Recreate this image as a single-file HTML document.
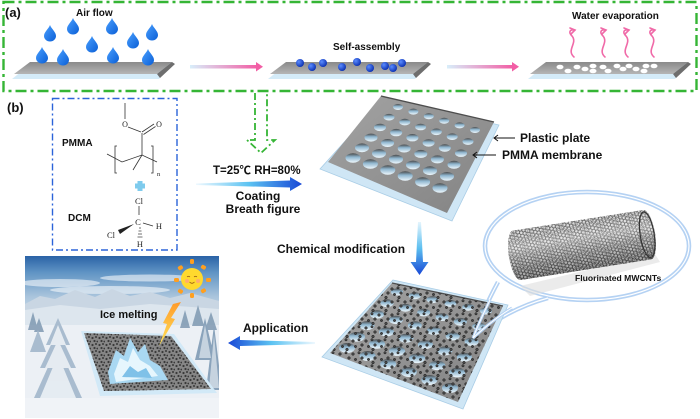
<!DOCTYPE html>
<html><head><meta charset="utf-8"><style>
html,body{margin:0;padding:0;background:#fff;}
svg{display:block;}
.t{font-family:"Liberation Sans",Arial,"Noto Sans CJK SC",sans-serif;font-weight:bold;fill:#111;}
.s{font-family:"Liberation Serif","Times New Roman",serif;fill:#222;}
</style></head><body>
<svg width="700" height="419" viewBox="0 0 700 419" xmlns="http://www.w3.org/2000/svg">
<defs>
 <linearGradient id="plateA" x1="0" y1="0" x2="0" y2="1"><stop offset="0" stop-color="#8a8a8a"/><stop offset="1" stop-color="#b5b5b5"/></linearGradient>
 <linearGradient id="pink" x1="0" x2="1"><stop offset="0" stop-color="#d8eefa"/><stop offset="1" stop-color="#f25ea5"/></linearGradient>
 <linearGradient id="blueR" x1="0" x2="1"><stop offset="0" stop-color="#eef8fe"/><stop offset="0.5" stop-color="#5cc3f2"/><stop offset="1" stop-color="#1848d6"/></linearGradient>
 <linearGradient id="blueL" x1="1" x2="0"><stop offset="0" stop-color="#eef8fe"/><stop offset="0.5" stop-color="#5cc3f2"/><stop offset="1" stop-color="#1848d6"/></linearGradient>
 <linearGradient id="blueD" x1="0" y1="0" x2="0" y2="1"><stop offset="0" stop-color="#e6f5fd"/><stop offset="0.5" stop-color="#5cbff0"/><stop offset="1" stop-color="#1848d6"/></linearGradient>
 <radialGradient id="ball" cx="0.35" cy="0.35" r="0.7"><stop offset="0" stop-color="#5b8cff"/><stop offset="1" stop-color="#0a2fb0"/></radialGradient>
 <linearGradient id="dropG" x1="0" y1="0" x2="1" y2="1"><stop offset="0" stop-color="#4aa0ff"/><stop offset="1" stop-color="#0b5fd6"/></linearGradient>
 <linearGradient id="hole" x1="0" y1="0" x2="0" y2="1"><stop offset="0" stop-color="#4a4a4a"/><stop offset="0.4" stop-color="#8fb6cf"/><stop offset="1" stop-color="#eef8fd"/></linearGradient>
 <linearGradient id="memG" x1="0" y1="0" x2="1" y2="1"><stop offset="0" stop-color="#a3a3a3"/><stop offset="1" stop-color="#838383"/></linearGradient>
 <pattern id="cnt" width="13" height="13" patternUnits="userSpaceOnUse">
  <g fill="#4a4a4a" stroke="#1a1a1a" stroke-width="0.5">
   <circle cx="2" cy="3" r="1.3"/><circle cx="8" cy="1.8" r="1.2"/><circle cx="11" cy="7" r="1.3"/>
   <circle cx="4.5" cy="8.5" r="1.2"/><circle cx="9" cy="11.5" r="1.3"/>
  </g>
 </pattern>
 <pattern id="cnt2" width="7" height="7" patternUnits="userSpaceOnUse">
  <g fill="#3a3a3a"><circle cx="1.5" cy="2" r="1.1"/><circle cx="5" cy="1" r="1"/><circle cx="3.5" cy="5" r="1.1"/><circle cx="6.3" cy="5.5" r="0.9"/></g>
 </pattern>
 <pattern id="hex" width="6.6" height="3.81" patternUnits="userSpaceOnUse" patternTransform="rotate(-9)">
  <path d="M0,1.905 L1.1,0 L3.3,0 L4.4,1.905 L3.3,3.81 L1.1,3.81 Z M4.4,1.905 L6.6,1.905" fill="none" stroke="#2c2c2c" stroke-width="0.55"/>
 </pattern>
 <pattern id="hex2" width="5.4" height="3.12" patternUnits="userSpaceOnUse" patternTransform="rotate(-14) translate(1,1)">
  <path d="M0,1.56 L0.9,0 L2.7,0 L3.6,1.56 L2.7,3.12 L0.9,3.12 Z M3.6,1.56 L5.4,1.56" fill="none" stroke="#555" stroke-width="0.45"/>
 </pattern>
 <linearGradient id="tubeShade" x1="0" y1="0" x2="0" y2="1"><stop offset="0" stop-color="#fff" stop-opacity="0.1"/><stop offset="0.35" stop-color="#fff" stop-opacity="0.35"/><stop offset="1" stop-color="#000" stop-opacity="0.25"/></linearGradient>
 <linearGradient id="sky" x1="0" y1="0" x2="0" y2="1">
  <stop offset="0" stop-color="#2a63a6"/><stop offset="0.1" stop-color="#5f93c4"/><stop offset="0.25" stop-color="#a9c4dc"/><stop offset="0.4" stop-color="#d6e2ec"/><stop offset="1" stop-color="#f0f4f7"/>
 </linearGradient>
 <clipPath id="photo"><rect x="25" y="256" width="194" height="162"/></clipPath>
 <linearGradient id="bolt" x1="0" y1="0" x2="0" y2="1"><stop offset="0" stop-color="#ff9a2a"/><stop offset="1" stop-color="#ffe45a"/></linearGradient>
</defs>

<!-- (a) frame -->
<rect x="3.5" y="2" width="693" height="89" fill="none" stroke="#35b535" stroke-width="2.4" stroke-dasharray="11 4 3 4"/>
<text class="t" x="5" y="17" font-size="13">(a)</text>
<text class="t" x="76" y="16" font-size="10">Air flow</text>
<text class="t" x="333" y="50" font-size="10">Self-assembly</text>
<text class="t" x="572" y="19" font-size="10">Water evaporation</text>

<!-- plates (a) -->
<g>
 <polygon points="32,63 174,63 159,79 12,79" fill="#d4ebf8"/>
 <polygon points="30,62 172,62 157,74 14,74" fill="url(#plateA)"/>
 <polygon points="172,62 175,64 160,78 157,74" fill="#6e6e6e"/>
</g>
<g>
 <polygon points="288,63 430,63 415,79 268,79" fill="#d4ebf8"/>
 <polygon points="286,62 428,62 413,74 270,74" fill="url(#plateA)"/>
 <polygon points="428,62 431,64 416,78 413,74" fill="#6e6e6e"/>
</g>
<g>
 <polygon points="548,63 690,63 675,79 528,79" fill="#d4ebf8"/>
 <polygon points="546,62 688,62 673,74 530,74" fill="url(#plateA)"/>
 <polygon points="688,62 691,64 676,78 673,74" fill="#6e6e6e"/>
</g>

<!-- drops -->
<g fill="url(#dropG)">
 <path d="M0,-8 C1.5,-4 6,-1 6,3 A6,5.5 0 0 1 -6,3 C-6,-1 -1.5,-4 0,-8 Z" transform="translate(50,33)"/>
 <path d="M0,-8 C1.5,-4 6,-1 6,3 A6,5.5 0 0 1 -6,3 C-6,-1 -1.5,-4 0,-8 Z" transform="translate(73,26)"/>
 <path d="M0,-8 C1.5,-4 6,-1 6,3 A6,5.5 0 0 1 -6,3 C-6,-1 -1.5,-4 0,-8 Z" transform="translate(112,26)"/>
 <path d="M0,-8 C1.5,-4 6,-1 6,3 A6,5.5 0 0 1 -6,3 C-6,-1 -1.5,-4 0,-8 Z" transform="translate(92,44)"/>
 <path d="M0,-8 C1.5,-4 6,-1 6,3 A6,5.5 0 0 1 -6,3 C-6,-1 -1.5,-4 0,-8 Z" transform="translate(133,40)"/>
 <path d="M0,-8 C1.5,-4 6,-1 6,3 A6,5.5 0 0 1 -6,3 C-6,-1 -1.5,-4 0,-8 Z" transform="translate(152,32)"/>
 <path d="M0,-8 C1.5,-4 6,-1 6,3 A6,5.5 0 0 1 -6,3 C-6,-1 -1.5,-4 0,-8 Z" transform="translate(42,55)"/>
 <path d="M0,-8 C1.5,-4 6,-1 6,3 A6,5.5 0 0 1 -6,3 C-6,-1 -1.5,-4 0,-8 Z" transform="translate(63,57)"/>
 <path d="M0,-8 C1.5,-4 6,-1 6,3 A6,5.5 0 0 1 -6,3 C-6,-1 -1.5,-4 0,-8 Z" transform="translate(113,55)"/>
 <path d="M0,-8 C1.5,-4 6,-1 6,3 A6,5.5 0 0 1 -6,3 C-6,-1 -1.5,-4 0,-8 Z" transform="translate(148,57)"/>
</g>

<!-- balls -->
<g fill="url(#ball)">
 <circle cx="300" cy="63" r="4"/><circle cx="312" cy="67" r="4"/><circle cx="323" cy="63" r="4"/><circle cx="342" cy="67" r="4"/>
 <circle cx="357" cy="62" r="4"/><circle cx="370" cy="68" r="4"/><circle cx="385" cy="66" r="4"/><circle cx="393" cy="68" r="4"/><circle cx="402" cy="63" r="4"/>
</g>
<!-- white pores -->
<g fill="#fff">
 <ellipse cx="560" cy="67" rx="3.5" ry="2.3"/><ellipse cx="568" cy="71" rx="3.5" ry="2.3"/><ellipse cx="577" cy="67" rx="3.5" ry="2.3"/><ellipse cx="585" cy="69" rx="3.5" ry="2.3"/>
 <ellipse cx="593" cy="66" rx="3.5" ry="2.3"/><ellipse cx="593" cy="71" rx="3.5" ry="2.3"/><ellipse cx="603" cy="67" rx="3.5" ry="2.3"/><ellipse cx="608" cy="71" rx="3.5" ry="2.3"/>
 <ellipse cx="617" cy="66" rx="3.5" ry="2.3"/><ellipse cx="623" cy="69" rx="3.5" ry="2.3"/><ellipse cx="629" cy="66" rx="3.5" ry="2.3"/><ellipse cx="636" cy="69" rx="3.5" ry="2.3"/>
 <ellipse cx="644" cy="71" rx="3.5" ry="2.3"/><ellipse cx="646" cy="66" rx="3.5" ry="2.3"/><ellipse cx="654" cy="66" rx="3.5" ry="2.3"/>
</g>
<!-- evaporation arrows -->
<g fill="none" stroke="#f06aa8" stroke-width="1.6" stroke-linecap="round">
 <path d="M574,57 C566,50 578,43 572,36 C568,32 570,29 575,30"/><path d="M570,28 L575,30 L571,34"/>
 <path d="M605,57 C597,50 609,43 603,36 C599,32 601,29 606,30"/><path d="M601,28 L606,30 L602,34"/>
 <path d="M628,57 C620,50 632,43 626,36 C622,32 624,29 629,30"/><path d="M624,28 L629,30 L625,34"/>
 <path d="M654,57 C646,50 658,43 652,36 C648,32 650,29 655,30"/><path d="M650,28 L655,30 L651,34"/>
</g>
<!-- (a) arrows -->
<rect x="190" y="65" width="67" height="3.5" fill="url(#pink)"/>
<polygon points="256,62 263,66.7 256,71.5" fill="#f25ea5"/>
<rect x="447" y="65" width="66" height="3.5" fill="url(#pink)"/>
<polygon points="512,62 519,66.7 512,71.5" fill="#f25ea5"/>

<!-- dashed down arrow -->
<path d="M255,93 L255,140 L247,140 L261,153 L275,140 L267,140 L267,93" fill="none" stroke="#35b535" stroke-width="1.8" stroke-dasharray="7 3 2 3"/>

<!-- (b) -->
<text class="t" x="7" y="112" font-size="13">(b)</text>
<rect x="52.5" y="98.5" width="124.5" height="151.5" fill="none" stroke="#2b63d9" stroke-width="1.4" stroke-dasharray="7 3 2 3"/>
<text class="t" x="62" y="146" font-size="10">PMMA</text>
<text class="t" x="68" y="221" font-size="10">DCM</text>

<!-- PMMA structure -->
<g stroke="#333" stroke-width="0.8" fill="none">
 <line x1="125" y1="103" x2="125" y2="119"/>
 <line x1="128" y1="127" x2="141" y2="132"/>
 <line x1="142" y1="132" x2="154" y2="124"/>
 <line x1="143.5" y1="134.5" x2="155.5" y2="126.5"/>
 <line x1="142" y1="133" x2="142" y2="155"/>
 <polyline points="107,154 122,162 142,155 157,162"/>
 <line x1="142" y1="155" x2="133" y2="170"/>
 <path d="M117,146 L115,146 L115,173 L117,173"/>
 <path d="M151,146 L153,146 L153,173 L151,173"/>
 <line x1="139" y1="206" x2="139" y2="215"/>
 <line x1="143" y1="223" x2="153" y2="226"/>
 <g stroke-width="0.7"><line x1="139" y1="228" x2="141" y2="228"/><line x1="138.5" y1="231" x2="141.5" y2="231"/><line x1="138" y1="234" x2="142" y2="234"/><line x1="137.5" y1="237" x2="142.5" y2="237"/></g>
</g>
<polygon points="134,224 118,230 120,234" fill="#222"/>
<text class="s" x="125" y="127" font-size="8" text-anchor="middle">O</text>
<text class="s" x="159" y="127" font-size="8" text-anchor="middle">O</text>
<text class="s" x="157" y="176" font-size="6.5">n</text>
<text class="s" x="139" y="204" font-size="8.5" text-anchor="middle">Cl</text>
<text class="s" x="138" y="225" font-size="8.5" text-anchor="middle">C</text>
<text class="s" x="159" y="229" font-size="8.5" text-anchor="middle">H</text>
<text class="s" x="111" y="238" font-size="8.5" text-anchor="middle">Cl</text>
<text class="s" x="140" y="247" font-size="8.5" text-anchor="middle">H</text>
<path d="M137.5,181 h5 v2.5 h2.5 v5 h-2.5 v2.5 h-5 v-2.5 h-2.5 v-5 h2.5 Z" fill="#7ecbed"/>

<!-- coating arrow -->
<text class="t" x="213" y="174" font-size="11.5">T=25℃ RH=80%</text>
<polygon points="196,183.5 290,180.5 290,177 302,184 290,191 290,187.5 196,185" fill="url(#blueR)"/>
<text class="t" x="258" y="200" font-size="12" text-anchor="middle">Coating</text>
<text class="t" x="263" y="213" font-size="12" text-anchor="middle">Breath figure</text>

<!-- membrane top -->
<polygon points="384,98 499,125 452,221 320,169" fill="#cfe6f5" stroke="#a9cde6" stroke-width="0.8"/>
<polygon points="381,96 494,122 447,213 328,162" fill="url(#memG)"/>
<line x1="381" y1="96" x2="494" y2="122" stroke="#4e4e4e" stroke-width="1.4"/>
<g fill="url(#hole)">
 <ellipse cx="398" cy="107" rx="5" ry="3"/><ellipse cx="413.4" cy="111.6" rx="5" ry="3"/><ellipse cx="428.8" cy="116.2" rx="5" ry="3"/><ellipse cx="444.2" cy="120.8" rx="5" ry="3"/><ellipse cx="459.6" cy="125.4" rx="5" ry="3"/><ellipse cx="475" cy="130" rx="5" ry="3"/>
 <ellipse cx="389" cy="117.2" rx="5.5" ry="3.3"/><ellipse cx="404.8" cy="122.1" rx="5.5" ry="3.3"/><ellipse cx="420.6" cy="127" rx="5.5" ry="3.3"/><ellipse cx="436.4" cy="131.8" rx="5.5" ry="3.3"/><ellipse cx="452.2" cy="136.7" rx="5.5" ry="3.3"/><ellipse cx="468" cy="141.6" rx="5.5" ry="3.3"/>
 <ellipse cx="380" cy="127.4" rx="6" ry="3.7"/><ellipse cx="396.2" cy="132.6" rx="6" ry="3.7"/><ellipse cx="412.4" cy="137.7" rx="6" ry="3.7"/><ellipse cx="428.6" cy="142.9" rx="6" ry="3.7"/><ellipse cx="444.8" cy="148" rx="6" ry="3.7"/><ellipse cx="461" cy="153.2" rx="6" ry="3.7"/>
 <ellipse cx="371" cy="137.6" rx="6.5" ry="4"/><ellipse cx="387.6" cy="143" rx="6.5" ry="4"/><ellipse cx="404.2" cy="148.5" rx="6.5" ry="4"/><ellipse cx="420.8" cy="153.9" rx="6.5" ry="4"/><ellipse cx="437.4" cy="159.4" rx="6.5" ry="4"/><ellipse cx="454" cy="164.8" rx="6.5" ry="4"/>
 <ellipse cx="362" cy="147.8" rx="7" ry="4.4"/><ellipse cx="379" cy="153.5" rx="7" ry="4.4"/><ellipse cx="396" cy="159.2" rx="7" ry="4.4"/><ellipse cx="413" cy="165" rx="7" ry="4.4"/><ellipse cx="430" cy="170.7" rx="7" ry="4.4"/><ellipse cx="447" cy="176.4" rx="7" ry="4.4"/>
 <ellipse cx="353" cy="158" rx="7.5" ry="4.7"/><ellipse cx="370.4" cy="164" rx="7.5" ry="4.7"/><ellipse cx="387.8" cy="170" rx="7.5" ry="4.7"/><ellipse cx="405.2" cy="176" rx="7.5" ry="4.7"/><ellipse cx="422.6" cy="182" rx="7.5" ry="4.7"/><ellipse cx="440" cy="188" rx="7.5" ry="4.7"/>
</g>
<!-- label arrows -->
<g stroke="#111" stroke-width="1" fill="none">
 <line x1="515" y1="138" x2="494" y2="138"/><polyline points="498,135 494,138 498,141"/>
 <line x1="496" y1="155" x2="473" y2="155"/><polyline points="477,152 473,155 477,158"/>
</g>
<text class="t" x="520" y="142" font-size="12">Plastic plate</text>
<text class="t" x="502" y="159" font-size="12">PMMA membrane</text>

<text class="t" x="277" y="253" font-size="12">Chemical modification</text>
<polygon points="418,222 421,222 423,262 428.5,262 419.5,275 410.5,262 416,262" fill="url(#blueD)"/>

<!-- bubble -->
<g fill="none">
 <ellipse cx="587" cy="246" rx="102" ry="54" stroke="#b5d2f3" stroke-width="4.5" fill="#fff"/>
 <path d="M498,282 Q482,312 473,338 Q505,310 548,298" stroke="#b5d2f3" stroke-width="4.5"/>
 <ellipse cx="587" cy="246" rx="102" ry="54" stroke="#fff" stroke-width="1.2"/>
 <path d="M498,282 Q482,312 473,338 Q505,310 548,298" stroke="#fff" stroke-width="1.2"/>
</g>
<!-- nanotube -->
<polygon points="520,286 655,254 660,262 530,296" fill="#ddd" opacity="0.6"/>
<g transform="translate(582,245) rotate(-9)">
 <rect x="-74" y="-25" width="148" height="50" rx="8" ry="25" fill="#d8d8d8"/>
 <rect x="-74" y="-25" width="148" height="50" rx="8" ry="25" fill="url(#hex2)"/>
 <rect x="-74" y="-25" width="148" height="50" rx="8" ry="25" fill="url(#hex)"/>
 <rect x="-74" y="-25" width="148" height="50" rx="8" ry="25" fill="url(#tubeShade)"/>
 <ellipse cx="66" cy="0" rx="7" ry="23" fill="none" stroke="#333" stroke-width="1.2"/>
</g>
<text class="t" x="575" y="281" font-size="8.6">Fluorinated MWCNTs</text>

<!-- membrane bottom -->
<polygon points="393,280 508,305 463,409 322,357" fill="#cfe6f5" stroke="#a9cde6" stroke-width="0.8"/>
<polygon points="392,283 503,306 458,402 330,353" fill="url(#memG)"/>
<line x1="392" y1="283" x2="503" y2="306" stroke="#4e4e4e" stroke-width="1.4"/>
<g fill="url(#hole)">
 <ellipse cx="397" cy="292" rx="6" ry="3.5"/><ellipse cx="414.8" cy="295.8" rx="6" ry="3.5"/><ellipse cx="432.6" cy="299.6" rx="6" ry="3.5"/><ellipse cx="450.4" cy="303.4" rx="6" ry="3.5"/><ellipse cx="468.2" cy="307.2" rx="6" ry="3.5"/><ellipse cx="486" cy="311" rx="6" ry="3.5"/>
 <ellipse cx="387" cy="303.2" rx="6.5" ry="3.9"/><ellipse cx="405.4" cy="307.8" rx="6.5" ry="3.9"/><ellipse cx="423.7" cy="312.5" rx="6.5" ry="3.9"/><ellipse cx="442.1" cy="317.1" rx="6.5" ry="3.9"/><ellipse cx="460.4" cy="321.8" rx="6.5" ry="3.9"/><ellipse cx="478.8" cy="326.4" rx="6.5" ry="3.9"/>
 <ellipse cx="377" cy="314.4" rx="7" ry="4.2"/><ellipse cx="395.9" cy="319.9" rx="7" ry="4.2"/><ellipse cx="414.8" cy="325.4" rx="7" ry="4.2"/><ellipse cx="433.8" cy="330.8" rx="7" ry="4.2"/><ellipse cx="452.7" cy="336.3" rx="7" ry="4.2"/><ellipse cx="471.6" cy="341.8" rx="7" ry="4.2"/>
 <ellipse cx="367" cy="325.6" rx="7.5" ry="4.5"/><ellipse cx="386.5" cy="331.9" rx="7.5" ry="4.5"/><ellipse cx="406" cy="338.2" rx="7.5" ry="4.5"/><ellipse cx="425.4" cy="344.6" rx="7.5" ry="4.5"/><ellipse cx="444.9" cy="350.9" rx="7.5" ry="4.5"/><ellipse cx="464.4" cy="357.2" rx="7.5" ry="4.5"/>
 <ellipse cx="357" cy="336.8" rx="8" ry="4.8"/><ellipse cx="377" cy="344" rx="8" ry="4.8"/><ellipse cx="397.1" cy="351.1" rx="8" ry="4.8"/><ellipse cx="417.1" cy="358.3" rx="8" ry="4.8"/><ellipse cx="437.2" cy="365.4" rx="8" ry="4.8"/><ellipse cx="457.2" cy="372.6" rx="8" ry="4.8"/>
 <ellipse cx="347" cy="348" rx="8" ry="5"/><ellipse cx="367.6" cy="356" rx="8" ry="5"/><ellipse cx="388.2" cy="364" rx="8" ry="5"/><ellipse cx="408.8" cy="372" rx="8" ry="5"/><ellipse cx="429.4" cy="380" rx="8" ry="5"/><ellipse cx="450" cy="388" rx="8" ry="5"/>
</g>
<polygon points="392,283 503,306 458,402 330,353" fill="url(#cnt)"/>
<!-- bubble tail tip over membrane -->
<path d="M490,300 Q480,320 473,338 Q495,318 512,308" fill="none" stroke="#b5d2f3" stroke-width="3"/>
<path d="M490,300 Q480,320 473,338 Q495,318 512,308" fill="none" stroke="#fff" stroke-width="1"/>

<!-- application -->
<text class="t" x="243" y="332" font-size="12">Application</text>
<polygon points="315,342 240,340 240,336 228,343 240,350 240,346 315,344" fill="url(#blueL)"/>

<!-- photo -->
<g clip-path="url(#photo)">
 <rect x="25" y="256" width="194" height="162" fill="url(#sky)"/>
 <g fill="#fff" opacity="0.55">
  <ellipse cx="60" cy="283" rx="40" ry="4"/><ellipse cx="150" cy="278" rx="50" ry="3.5"/><ellipse cx="110" cy="290" rx="60" ry="4"/>
 </g>
 <polygon points="25,304 40,296 55,299 75,290 95,297 112,289 130,296 150,292 170,298 190,293 219,301 219,322 25,322" fill="#c9d6e3"/>
 <polygon points="25,310 60,305 100,309 150,304 219,309 219,330 25,330" fill="#dde6ee"/>
 <rect x="25" y="325" width="194" height="93" fill="#ecf0f5"/>
 <!-- far trees -->
 <g fill="#7f99b2" opacity="0.85">
  <polygon points="28,330 33,312 38,330"/><polygon points="34,332 39,318 44,332"/>
  <polygon points="180,328 185,310 190,328"/><polygon points="192,326 198,305 204,326"/><polygon points="205,330 211,312 217,330"/>
 </g>
 <!-- left big tree -->
 <g fill="#a9bccf">
  <polygon points="58,318 46,345 70,345"/><polygon points="58,330 40,368 76,368"/><polygon points="58,345 34,398 82,398"/>
  <polygon points="30,352 38,330 46,352"/>
 </g>
 <g fill="#f4f7fa" opacity="0.8">
  <polygon points="58,325 50,345 66,345"/><polygon points="58,340 45,368 71,368"/><polygon points="58,355 40,398 76,398"/>
 </g>
 <!-- right trees -->
 <g fill="#8aa3bb">
  <polygon points="205,318 195,360 215,360"/><polygon points="214,325 206,390 222,390"/>
 </g>
 <g fill="#eef3f7" opacity="0.6"><polygon points="205,325 199,358 211,358"/><polygon points="214,335 209,388 219,388"/></g>
 <rect x="25" y="398" width="194" height="20" fill="#f0f3f7"/>
 <!-- plate -->
 <polygon points="81,331 174,334 217,393 100,396" fill="#d2e9f7"/>
 <polygon points="84,333 171,336 211,389 104,391" fill="#868686"/>
 <polygon points="84,333 171,336 211,389 104,391" fill="url(#cnt2)"/>
 <!-- ice -->
 <g>
  <polygon points="108,372 116,350 124,356 130,338 138,352 145,344 150,360 160,366 168,380 110,384" fill="#a9d8f2"/>
  <polygon points="114,374 120,358 128,362 133,348 140,360 150,366 158,376 116,382" fill="#e6f6fd"/>
  <polygon points="122,377 130,366 138,372 146,368 152,378" fill="#7fc1e8"/>
 </g>
 <!-- bolt -->
 <polygon points="181,302 171,318 175,319 159,346 167,324 163,323 173,304" fill="url(#bolt)"/>
 <!-- sun -->
 <g fill="#ff9f1f">
  <rect x="190" y="259" width="4" height="5" rx="1.5"/><rect x="178" y="266" width="5" height="4" rx="1.5" transform="rotate(-30 180 268)"/>
  <rect x="201" y="265" width="5" height="4" rx="1.5" transform="rotate(30 203 267)"/><rect x="174" y="278" width="5" height="4" rx="1.5"/>
  <rect x="206" y="278" width="5" height="4" rx="1.5"/><rect x="178" y="289" width="5" height="4" rx="1.5" transform="rotate(30 180 291)"/>
  <rect x="201" y="289" width="5" height="4" rx="1.5" transform="rotate(-30 203 291)"/><rect x="190" y="293" width="4" height="5" rx="1.5"/>
 </g>
 <circle cx="192" cy="279" r="11" fill="#ffd92e"/>
 <circle cx="187" cy="281" r="2" fill="#ff9a8a" opacity="0.7"/><circle cx="198" cy="281" r="2" fill="#ff9a8a" opacity="0.7"/>
 <path d="M187,277 q1.5,-1.5 3,0 M194,277 q1.5,-1.5 3,0 M189.5,282 q2.5,2.5 5,0" fill="none" stroke="#8a4a10" stroke-width="0.6"/>
</g>
<text class="t" x="100" y="318" font-size="11">Ice melting</text>
</svg>
</body></html>
